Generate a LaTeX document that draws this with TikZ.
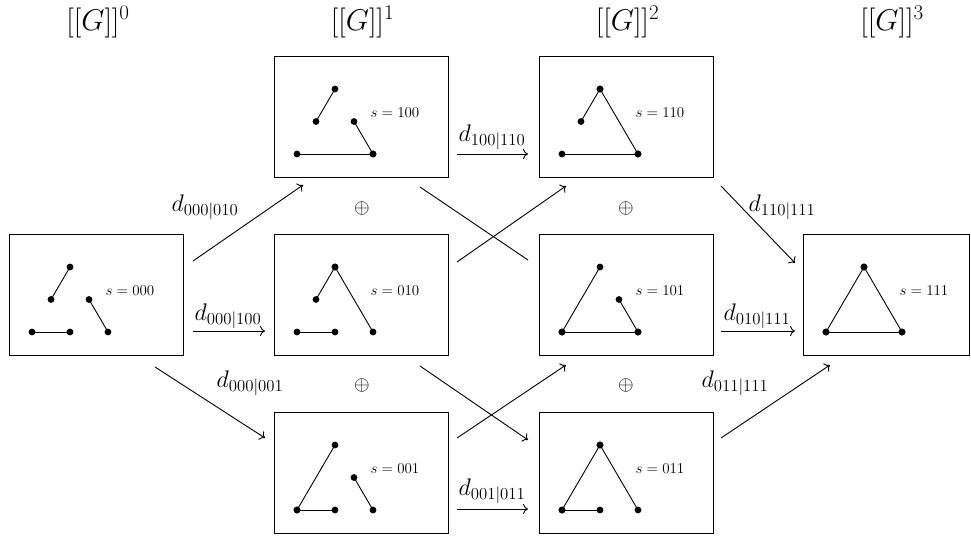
\documentclass[tikz,border=0pt]{standalone}
\usepackage{fix-cm}
\usetikzlibrary{arrows.meta}
\tikzset{
 box/.style={draw, line width=0.9pt, minimum height=121pt, inner sep=0pt},
 gline/.style={line width=0.9pt},
 slabel/.style={font=\fontsize{15}{18}\selectfont, inner sep=0pt},
 dlabel/.style={font=\fontsize{24}{28}\selectfont, inner sep=0pt},
 titlelab/.style={font=\fontsize{30}{34}\selectfont, inner sep=0pt},
 opluslab/.style={font=\fontsize{20}{24}\selectfont, inner sep=0pt},
 plainline/.style={line width=0.9pt},
 arr/.style={line width=0.9pt, -{To[length=5pt,width=10pt]}},
}
\newcommand\gbox[6]{%
 \node[box, minimum width=#6, anchor=north west] (#1) at (#2,#3) {};
 \begin{scope}[shift={(#2,#3)}]
  \coordinate (#1A) at (23,98);
  \coordinate (#1B) at (99,98);
  \coordinate (#1C) at (61,33);
  \coordinate (#1P) at (61,98);
  \coordinate (#1Q) at (80,65.5);
  \coordinate (#1R) at (42,65.5);
  \node[slabel] (#1s) at (121,57) {$s=#5$};
 \end{scope}
 \foreach \p/\q in {#4}{\draw[gline] (#1\p) -- (#1\q); \fill (#1\p) circle (3.4pt) (#1\q) circle (3.4pt);}
}
\begin{document}
\begin{tikzpicture}[x=1pt,y=-1pt]
\useasboundingbox (0,0) rectangle (971,536);
% titles
\node[titlelab] (t0) at (98,22) {$[[G]]^0$};
\node[titlelab] (t1) at (362.5,22) {$[[G]]^1$};
\node[titlelab] (t2) at (627.5,22) {$[[G]]^2$};
\node[titlelab] (t3) at (892,22) {$[[G]]^3$};
% boxes
\gbox{b000}{9}{234}{A/P,Q/B,R/C}{000}{174pt}
\gbox{b100}{274}{56}{A/B,Q/B,R/C}{100}{174pt}
\gbox{b010}{274}{234}{A/P,C/B,R/C}{010}{174pt}
\gbox{b001}{274}{412}{A/P,Q/B,A/C}{001}{174pt}
\gbox{b110}{539}{56}{A/B,C/B,R/C}{110}{174pt}
\gbox{b101}{539}{234}{A/B,Q/B,A/C}{101}{174pt}
\gbox{b011}{539}{412}{A/P,C/B,A/C}{011}{174pt}
\gbox{b111}{803}{234}{A/B,C/B,A/C}{111}{166pt}
% oplus
\node[opluslab] (o1) at (362,208) {$\oplus$};
\node[opluslab] (o2) at (626,208) {$\oplus$};
\node[opluslab] (o3) at (362,385) {$\oplus$};
\node[opluslab] (o4) at (626,385) {$\oplus$};
% arrow end points
\coordinate (e1s) at (193,261); \coordinate (e1t) at (303,185);
\coordinate (e2s) at (193,331); \coordinate (e2t) at (265,331);
\coordinate (e3s) at (155,367); \coordinate (e3t) at (265,438);
\coordinate (e4s) at (457,154); \coordinate (e4t) at (528,154);
\coordinate (e6s) at (457,262); \coordinate (e6t) at (566,186);
\coordinate (e7s) at (420,366); \coordinate (e7t) at (528,440);
\coordinate (e8s) at (457,438); \coordinate (e8t) at (566,365);
\coordinate (e9s) at (457,509); \coordinate (e9t) at (528,509);
\coordinate (e10s) at (721,186); \coordinate (e10t) at (795,263);
\coordinate (e11s) at (721,331); \coordinate (e11t) at (795,331);
\coordinate (e12s) at (721,438); \coordinate (e12t) at (830,365);
\foreach \i in {1,2,3,4,6,7,8,9,10,11,12}{\draw[arr] (e\i s) -- (e\i t);}
\coordinate (e5s) at (420,187); \coordinate (e5t) at (528,260);
\draw[plainline] (e5s) -- (e5t);
% labels
\node[dlabel] (l1) at (205,207) {$d_{000|010}$};
\node[dlabel] (l2) at (228,316) {$d_{000|100}$};
\node[dlabel] (l3) at (250,383) {$d_{000|001}$};
\node[dlabel] (l4) at (492,137) {$d_{100|110}$};
\node[dlabel] (l9) at (492,491) {$d_{001|011}$};
\node[dlabel] (l10) at (782,207) {$d_{110|111}$};
\node[dlabel] (l11) at (757,316) {$d_{010|111}$};
\node[dlabel] (l12) at (735,383) {$d_{011|111}$};
\end{tikzpicture}
\end{document}
